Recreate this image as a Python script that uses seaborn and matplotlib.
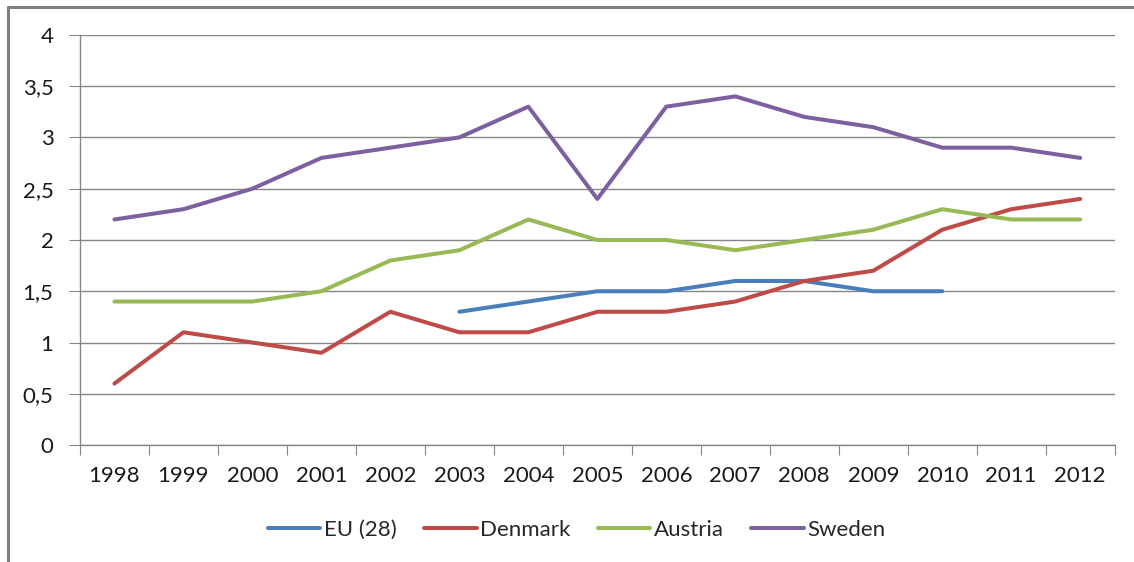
import pandas as pd
import seaborn as sns
import matplotlib.pyplot as plt

years = [1998, 1999, 2000, 2001, 2002, 2003, 2004, 2005, 2006, 2007, 2008, 2009, 2010, 2011, 2012]
eu_years = [2003, 2004, 2005, 2006, 2007, 2008, 2009, 2010]
eu = [1.3, 1.4, 1.5, 1.5, 1.6, 1.6, 1.5, 1.5]
denmark = [0.6, 1.1, 1.0, 0.9, 1.3, 1.1, 1.1, 1.3, 1.3, 1.4, 1.6, 1.7, 2.1, 2.3, 2.4]
austria = [1.4, 1.4, 1.4, 1.5, 1.8, 1.9, 2.2, 2.0, 2.0, 1.9, 2.0, 2.1, 2.3, 2.2, 2.2]
sweden = [2.2, 2.3, 2.5, 2.8, 2.9, 3.0, 3.3, 2.4, 3.3, 3.4, 3.2, 3.1, 2.9, 2.9, 2.8]
series_names = ['EU (28)', 'Denmark', 'Austria', 'Sweden']
colors = ['#4A7EBB', '#BE4B48', '#98B954', '#7D60A0']

rows = []
for y, v in zip(eu_years, eu):
    rows.append(('EU (28)', y, v))
for name, vals in [('Denmark', denmark), ('Austria', austria), ('Sweden', sweden)]:
    for y, v in zip(years, vals):
        rows.append((name, y, v))
df = pd.DataFrame(rows, columns=['country', 'year', 'value'])
df['pos'] = df['year'] - years[0]

sns.set_style('white')
plt.rcParams['font.family'] = ['Lato', 'DejaVu Sans']

fig = plt.figure(figsize=(11.34, 5.62), dpi=100)
ax = fig.add_axes([0.0705, 0.208, 0.9125, 0.730])

sns.lineplot(data=df, x='pos', y='value', hue='country', hue_order=series_names,
             palette=colors, linewidth=2.9, ax=ax, legend=True)

ax.set_xlim(-0.5, len(years) - 0.5)
ax.set_ylim(0, 4)
ax.set_yticks([0, 0.5, 1, 1.5, 2, 2.5, 3, 3.5, 4])
ax.set_yticklabels(['0', '0,5', '1', '1,5', '2', '2,5', '3', '3,5', '4'])
ax.set_xticks([i - 0.5 for i in range(len(years) + 1)])
ax.set_xticklabels([])
ax.set_xticks(range(len(years)), minor=True)
ax.set_xticklabels([str(y) for y in years], minor=True)
ax.tick_params(axis='x', which='major', length=7, color='#868686', direction='out', bottom=True)
ax.tick_params(axis='x', which='minor', length=0, pad=15, labelsize=16, labelcolor='#1a1a1a')
ax.tick_params(axis='y', length=8, color='#868686', direction='out', left=True, pad=11,
               labelsize=16, labelcolor='#1a1a1a')
ax.yaxis.grid(True, color='#868686', linewidth=1)
ax.set_axisbelow(True)
for s in ['top', 'right']:
    ax.spines[s].set_visible(False)
for s in ['left', 'bottom']:
    ax.spines[s].set_color('#868686')
    ax.spines[s].set_linewidth(1)
ax.set_xlabel('')
ax.set_ylabel('')

handles, labels = ax.get_legend_handles_labels()
ax.legend(handles, labels, loc='center', bbox_to_anchor=(0.480, -0.207), ncol=4,
          frameon=False, fontsize=16, handlelength=2.35, handletextpad=0.15, columnspacing=1.25)

# outer border like the original frame
fig.add_artist(plt.Line2D([0.007, 0.007], [0, 0.988], color='#7f7f7f', linewidth=2.2))
fig.add_artist(plt.Line2D([0.007, 1.0], [0.988, 0.988], color='#7f7f7f', linewidth=2.2))

fig.savefig('out.png', dpi=100)
